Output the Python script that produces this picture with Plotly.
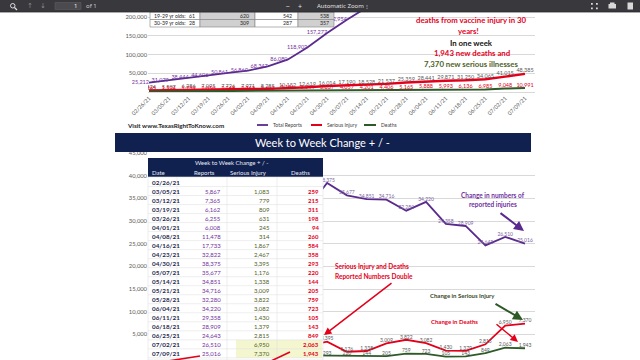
import plotly.graph_objects as go

W, H = 640, 360
def X(p): return p / W
def Y(p): return 1 - p / H

FONT = "Lato"

# ---------------- data ----------------
top_dates = ["02/26/21", "03/05/21", "03/12/21", "03/19/21", "03/26/21", "04/02/21", "04/09/21",
             "04/16/21", "04/23/21", "04/30/21", "05/07/21", "05/14/21", "05/21/21", "05/28/21",
             "06/04/21", "06/11/21", "06/18/21", "06/25/21", "07/02/21", "07/09/21"]
table_dates = ["02/26/21", "03/05/21", "03/12/21", "03/19/21", "03/26/21", "04/01/21", "04/08/21",
               "04/16/21", "04/23/21", "04/30/21", "05/07/21", "05/14/21", "05/21/21", "05/28/21",
               "06/04/21", "06/11/21", "06/18/21", "06/25/21", "07/02/21", "07/09/21"]
reports_total = [25212, 31079, 38444, 44606, 50861, 56869, 68347, 86080, 118902, 157277,
                 192954, 227805, 262521, 294801, 329021, 358379, 387288, 411931, 438441, 463457]
serious_total = [4424, 5507, 6286, 7095, 7726, 7971, 8285, 10152, 12619, 16014,
                 17190, 18528, 21537, 25359, 28441, 29871, 31250, 34065, 41015, 48385]
deaths_total = [1265, 1524, 1739, 2050, 2248, 2342, 2602, 3186, 3544, 3837,
                4057, 4201, 4406, 5165, 5888, 5993, 6136, 6985, 9048, 10991]
reports_change = [None, 5867, 7365, 6162, 6255, 6008, 11478, 17733, 32822, 38375,
                  35677, 34851, 34716, 32280, 34220, 29358, 28909, 24643, 26510, 25016]
serious_change = [None, 1083, 779, 809, 631, 245, 314, 1867, 2467, 3395,
                  1176, 1338, 3009, 3822, 3082, 1430, 1379, 2815, 6950, 7370]
deaths_change = [None, 259, 215, 311, 198, 94, 260, 584, 358, 293,
                 220, 144, 205, 759, 723, 105, 143, 849, 2063, 1943]
age_rows = [["19-29 yr olds:", "61", "620", "542", "538"],
            ["30-39 yr olds:", "28", "309", "287", "357"]]
top_ticks = [50000, 100000, 150000, 200000]
bottom_ticks = [5000, 10000, 15000, 20000, 25000, 30000, 35000, 40000, 45000]

PURPLE = "#5a2a8e"
PURPLE_TXT = "#7030a0"
RED = "#e3001b"
GREEN = "#2d5a27"
GREEN_TXT = "#4f6228"
NAVY = "#11214f"
GRID = "#d9d9d9"
GRAY_TXT = "#595959"

def fmt(v):
    return "" if v is None else f"{v:,}"

idx = list(range(len(top_dates)))
fig = go.Figure()

# ---- top cumulative chart ----
fig.add_trace(go.Scatter(x=idx, y=reports_total, mode="lines+text", text=[fmt(v) for v in reports_total],
                         textposition="middle left", textfont=dict(size=5.5, color=PURPLE_TXT, family=FONT),
                         line=dict(color=PURPLE, width=1.8), cliponaxis=False, xaxis="x", yaxis="y"))
fig.add_trace(go.Scatter(x=idx, y=serious_total, mode="lines+text", text=[fmt(v) for v in serious_total],
                         textposition="top center", textfont=dict(size=5.5, color=GRAY_TXT, family=FONT),
                         line=dict(color=RED, width=2.4), xaxis="x", yaxis="y"))
fig.add_trace(go.Scatter(x=idx, y=deaths_total, mode="lines+text", text=[fmt(v) for v in deaths_total],
                         textposition="top center", textfont=dict(size=5.5, color=RED, family=FONT),
                         line=dict(color=GREEN, width=2), xaxis="x", yaxis="y"))

# ---- bottom week-to-week chart ----
fig.add_trace(go.Scatter(x=idx, y=reports_change, mode="lines+text", text=[fmt(v) for v in reports_change],
                         textposition="top center", textfont=dict(size=5, color="#7a5fa0", family=FONT),
                         line=dict(color=PURPLE, width=1.8), xaxis="x2", yaxis="y2"))
fig.add_trace(go.Scatter(x=idx, y=serious_change, mode="lines+text", text=[fmt(v) for v in serious_change],
                         textposition="top center", textfont=dict(size=5, color=GRAY_TXT, family=FONT),
                         line=dict(color=RED, width=1.8), xaxis="x2", yaxis="y2"))
fig.add_trace(go.Scatter(x=idx, y=deaths_change, mode="lines+text", text=[fmt(v) for v in deaths_change],
                         textposition="top center", textfont=dict(size=5, color=GRAY_TXT, family=FONT),
                         line=dict(color=GREEN, width=1.8), xaxis="x2", yaxis="y2"))

x0px, x1px = 148, 535
xr = [-(149 - x0px) / 19.79, 19 + (x1px - 525) / 19.79]

shapes, ann = [], []

def rect(x0, y0, x1, y1, fill, line=None, lw=0, layer="above"):
    shapes.append(dict(type="rect", xref="paper", yref="paper", x0=X(x0), x1=X(x1), y0=Y(y1), y1=Y(y0),
                       fillcolor=fill, line=dict(color=line or fill, width=lw), layer=layer))

def seg(x0, y0, x1, y1, color, w=1, layer="above"):
    shapes.append(dict(type="line", xref="paper", yref="paper", x0=X(x0), x1=X(x1), y0=Y(y0), y1=Y(y1),
                       line=dict(color=color, width=w), layer=layer))

def txt(x, y, s, size, color, bold=False, anchor="center", family=FONT):
    ann.append(dict(x=X(x), y=Y(y), xref="paper", yref="paper", text=f"<b>{s}</b>" if bold else s,
                    showarrow=False, xanchor=anchor, yanchor="middle",
                    font=dict(size=size, color=color, family=family)))

def arrow(xs, ys, xe, ye, color, w=1.5):
    ann.append(dict(x=X(xe), y=Y(ye), xref="paper", yref="paper", text="", showarrow=True,
                    ax=xs - xe, ay=ys - ye, arrowhead=2, arrowsize=1, arrowwidth=w, arrowcolor=color))

# ---- top overlay table ----
cols = [150, 200, 255, 298, 334]
fills = ["#ffffff", "#d0d0d0", "#ffffff", "#d0d0d0"]
for r, row in enumerate(age_rows):
    yt, yb = 12 + r * 7.5, 19.5 + r * 7.5
    for c in range(4):
        rect(cols[c], yt, cols[c + 1], yb, fills[c], "#7f7f7f", 0.6)
    txt(152, (yt + yb) / 2, row[0], 5.2, "#262626", anchor="left")
    txt(197, (yt + yb) / 2, row[1], 5.2, "#262626", anchor="right")
    txt(251, (yt + yb) / 2, row[2], 5.2, "#262626", anchor="right")
    txt(294, (yt + yb) / 2, row[3], 5.2, "#262626", anchor="right")
    txt(331, (yt + yb) / 2, row[4], 5.2, "#262626", anchor="right")

# ---- right text block ----
txt(471, 20, "deaths from vaccine injury in 30", 7.8, RED, bold=True)
txt(468, 31, "years!", 7.8, RED, bold=True)
txt(471, 43, "In one week", 7.8, "#111111", bold=True)
txt(472, 53, "1,943 new deaths and", 7.8, RED, bold=True)
txt(471, 64, "7,370 new serious illnesses", 7.8, GREEN_TXT, bold=True)

# ---- legend / footer of top chart ----
txt(125, 125, "Visit www.TexasRightToKnow.com", 6.3, "#262626", bold=True, anchor="left")
seg(257, 125, 268, 125, PURPLE, 1.8)
txt(271, 125, "Total Reports", 5, "#404040", anchor="left")
seg(311, 125, 322, 125, RED, 2)
txt(325, 125, "Serious Injury", 5, "#404040", anchor="left")
seg(364, 125, 376, 125, GREEN, 2)
txt(379, 125, "Deaths", 5, "#404040", anchor="left")

# ---- banner ----
rect(115, 133, 531, 152, NAVY)
txt(322, 143, "Week to Week Change + / -", 11, "#ffffff")

# ---- bottom table ----
rect(148, 158, 323, 177, NAVY)
rect(148, 177, 323, 360, "#ffffff", "#e0e0e0", 0.6)
rect(236, 340, 322, 358, "#f3f6cf")
txt(232, 163, "Week to Week Change + / -", 6, "#e8ebf5")
txt(158, 172, "Date", 6, "#e8ebf5")
txt(204, 172, "Reports", 6, "#e8ebf5")
txt(248, 172, "Serious Injury", 6, "#e8ebf5")
txt(300, 172, "Deaths", 6, "#e8ebf5")
for xv in [177, 227, 277]:
    seg(xv, 177, xv, 360, "#e3e3e3", 0.6)
for k, d in enumerate(table_dates):
    yc = 182 + 9.02 * k
    seg(148, yc + 4.5, 323, yc + 4.5, "#e3e3e3", 0.6)
    txt(150, yc, d, 6.3, "#1f2a4d", bold=True, anchor="left")
    txt(223, yc, fmt(reports_change[k]), 6, "#7030a0", anchor="right")
    txt(272, yc, fmt(serious_change[k]), 6, GREEN_TXT, anchor="right")
    txt(321, yc, fmt(deaths_change[k]), 6, RED, bold=True, anchor="right")
# red pointer strokes entering from below the visible area
seg(168, 361, 200, 356, RED, 1.6)
seg(271, 361, 290, 352, RED, 1.6)

# ---- callouts ----
txt(493, 195, "Change in numbers of", 6.5, PURPLE_TXT, bold=True)
txt(493, 204, "reported injuries", 6.5, PURPLE_TXT, bold=True)
arrow(499, 212, 524, 231, PURPLE, 2)
txt(333, 266, "Serious Injury and Deaths", 6.5, RED, bold=True, anchor="left")
txt(333, 276, "Reported Numbers Double", 6.5, RED, bold=True, anchor="left")
arrow(393, 282, 324, 335, RED, 1.5)
txt(462, 295, "Change in Serious Injury", 6, "#3a4a2a", bold=True)
arrow(494, 303, 523, 320, GREEN, 2)
txt(454, 321, "Change in Deaths", 6, RED, bold=True)
arrow(495, 323, 518, 342, RED, 1.5)

# ---- PDF viewer toolbar ----
rect(0, 0, 640, 12, "#38383d")
seg(0, 12, 640, 12, "#2a2a2e", 0.8)
shapes.append(dict(type="circle", xref="paper", yref="paper", x0=X(10.5), x1=X(15), y0=Y(8), y1=Y(3.5),
                   line=dict(color="#e0e0e0", width=1), layer="above"))
seg(14.5, 7.5, 17, 10, "#e0e0e0", 1.2)
txt(30, 6, "↑", 7, "#8c8c8c", family="DejaVu Sans")
txt(43, 6, "↓", 7, "#8c8c8c", family="DejaVu Sans")
rect(55, 2.5, 81, 9.5, "#4a4a4f", "#5c5c61", 0.6)
txt(79, 6, "1", 6, "#f0f0f0", anchor="right", family="Noto Sans")
txt(84, 6, "of 1", 6, "#cfcfcf", anchor="left", family="Noto Sans")
txt(288, 6, "−", 7, "#e0e0e0", family="Noto Sans")
txt(300, 6, "+", 7, "#e0e0e0", family="Noto Sans")
txt(315, 6, "Automatic Zoom", 6, "#e0e0e0", anchor="left", family="Noto Sans")
txt(367, 6, "⁝", 6, "#e0e0e0", family="DejaVu Sans")
for (a, b) in [(591, 3), (596, 3), (591, 7.5), (596, 7.5)]:
    rect(a, b, a + 1.8, b + 1.8, "#d8d8d8")
rect(608.5, 4, 616, 8.5, "#d8d8d8")
rect(610, 2.5, 614.5, 4, "#d8d8d8")
rect(627.5, 2.5, 633, 9.5, "#d8d8d8")

fig.update_layout(
    width=W, height=H, margin=dict(l=0, r=0, t=0, b=0, autoexpand=False),
    paper_bgcolor="white", plot_bgcolor="rgba(0,0,0,0)", showlegend=False,
    shapes=shapes, annotations=ann,
    xaxis=dict(domain=[X(x0px), X(x1px)], range=xr, anchor="y", tickmode="array", tickvals=idx,
               ticktext=top_dates, tickangle=-45, tickfont=dict(size=5.5, color=GRAY_TXT, family=FONT),
               showgrid=False, showline=True, linecolor=GRID, ticks="", zeroline=False, automargin=False),
    yaxis=dict(domain=[Y(92), 1], range=[0, 92 / 0.000375], tickmode="array", tickvals=top_ticks,
               tickformat=",", tickfont=dict(size=5.8, color=GRAY_TXT, family=FONT),
               gridcolor=GRID, gridwidth=0.6, zeroline=False, ticks="", automargin=False),
    xaxis2=dict(domain=[X(x0px), X(x1px)], range=xr, anchor="y2", showticklabels=False,
                showgrid=False, showline=False, zeroline=False, automargin=False),
    yaxis2=dict(domain=[0, Y(153)], range=[-643, 45000], tickmode="array", tickvals=bottom_ticks,
                tickformat=",", tickfont=dict(size=5.8, color=GRAY_TXT, family=FONT),
                gridcolor=GRID, gridwidth=0.6, zeroline=False, ticks="", automargin=False),
)

fig.write_html("out.html", config={"displayModeBar": False},
               post_script="document.body.style.margin='0';document.body.style.overflow='hidden';")
